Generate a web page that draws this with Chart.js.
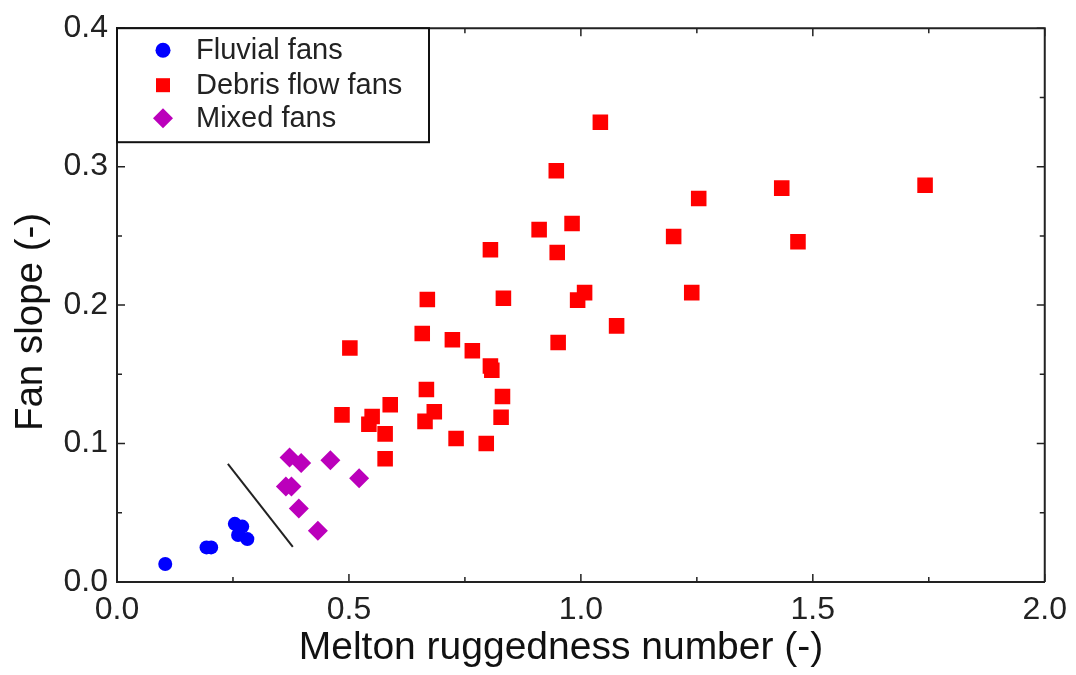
<!DOCTYPE html>
<html>
<head>
<meta charset="utf-8">
<script src="https://cdn.jsdelivr.net/npm/chart.js@4/dist/chart.umd.min.js"></script>
<style>
  body { margin: 0; background: #fff; }
  #wrap { width: 1076px; height: 675px; }
</style>
</head>
<body>
<div id="wrap"><canvas id="fanChart" width="1076" height="675"></canvas></div>
<script>
/* -------------------- DATA -------------------- */
const fluvialX = [0.104, 0.193, 0.203, 0.254, 0.270, 0.261, 0.281];
const fluvialY = [0.013, 0.025, 0.025, 0.042, 0.040, 0.034, 0.031];

const debrisX = [1.042, 0.947, 1.254, 0.981, 0.910, 1.200, 0.805, 0.949, 1.433, 1.468, 1.742,
  0.669, 0.833, 1.008, 0.993, 1.239, 1.077, 0.658, 0.723, 0.766, 0.951, 0.502, 0.805, 0.808,
  0.667, 0.831, 0.684, 0.664, 0.828, 0.589, 0.485, 0.550, 0.543, 0.731, 0.796, 0.578, 0.578];
const debrisY = [0.332, 0.297, 0.277, 0.259, 0.2545, 0.2495, 0.240, 0.238, 0.2845, 0.2457, 0.2866,
  0.204, 0.205, 0.209, 0.2036, 0.209, 0.185, 0.1795, 0.175, 0.167, 0.173, 0.169, 0.156, 0.153,
  0.139, 0.134, 0.123, 0.116, 0.119, 0.128, 0.1207, 0.1195, 0.114, 0.1036, 0.100, 0.107, 0.089];

const mixedX = [0.372, 0.397, 0.460, 0.522, 0.364, 0.376, 0.392, 0.433];
const mixedY = [0.090, 0.086, 0.088, 0.075, 0.069, 0.069, 0.053, 0.037];

// dividing line between fluvial and mixed fans
const dividerX = [0.239, 0.379];
const dividerY = [0.0854, 0.0254];

const xTicks = [0, 0.5, 1.0, 1.5, 2.0];
const yTicks = [0, 0.1, 0.2, 0.3, 0.4];
const legendLabels = ["Fluvial fans", "Debris flow fans", "Mixed fans"];
const xTitle = "Melton ruggedness number (-)";
const yTitle = "Fan slope (-)";

const toPoints = (xs, ys) => xs.map((x, i) => ({ x: x, y: ys[i] }));

const FONT = "'Liberation Sans', Arial, sans-serif";
const AXIS = "#222";

/* -------------------- FRAME, TITLES + LEGEND PLUGIN -------------------- */
const framePlugin = {
  id: "frame",
  afterDraw(chart) {
    const { ctx, chartArea: a, scales } = chart;
    const xs = scales.x, ys = scales.y;
    ctx.save();
    ctx.strokeStyle = AXIS;
    ctx.lineWidth = 2;
    ctx.beginPath();
    ctx.moveTo(a.left, a.top);
    ctx.lineTo(a.right, a.top);
    ctx.lineTo(a.right, a.bottom);
    ctx.stroke();

    // inward ticks on all four sides
    ctx.lineWidth = 1.5;
    ctx.beginPath();
    for (let v = 0; v <= 2.0001; v += 0.25) {
      const px = xs.getPixelForValue(v);
      const len = Math.abs(v * 2 - Math.round(v * 2)) < 1e-6 ? 8 : 5;
      ctx.moveTo(px, a.bottom); ctx.lineTo(px, a.bottom - len);
      ctx.moveTo(px, a.top); ctx.lineTo(px, a.top + len);
    }
    for (let v = 0; v <= 0.4001; v += 0.05) {
      const py = ys.getPixelForValue(v);
      const len = Math.abs(v * 10 - Math.round(v * 10)) < 1e-6 ? 8 : 5;
      ctx.moveTo(a.left, py); ctx.lineTo(a.left + len, py);
      ctx.moveTo(a.right, py); ctx.lineTo(a.right - len, py);
    }
    ctx.stroke();

    // axis titles (sit a little off-centre in the original)
    ctx.fillStyle = "#111";
    ctx.textAlign = "center";
    ctx.textBaseline = "alphabetic";
    ctx.font = "39px " + FONT;
    ctx.fillText(xTitle, 561, 659);
    ctx.save();
    ctx.translate(42, 322);
    ctx.rotate(-Math.PI / 2);
    ctx.font = "38.5px " + FONT;
    ctx.fillText(yTitle, 0, 0);
    ctx.restore();

    // legend box
    const bx = a.left, by = a.top, bw = 312, bh = 114;
    ctx.fillStyle = "#fff";
    ctx.fillRect(bx, by, bw, bh);
    ctx.lineWidth = 2;
    ctx.strokeStyle = "#111";
    ctx.strokeRect(bx, by, bw, bh);

    const rowsY = [by + 22, by + 57, by + 90];
    const mx = bx + 46;
    ctx.font = "29px " + FONT;
    ctx.textBaseline = "middle";
    ctx.textAlign = "left";
    chart.data.datasets.slice(0, 3).forEach((ds, i) => {
      ctx.fillStyle = ds.backgroundColor;
      const y = rowsY[i];
      ctx.beginPath();
      if (ds.pointStyle === "circle") {
        ctx.arc(mx, y, 7.5, 0, Math.PI * 2);
      } else if (ds.pointStyle === "rect") {
        ctx.rect(mx - 7, y - 7, 14, 14);
      } else {
        ctx.moveTo(mx - 10, y); ctx.lineTo(mx, y - 10);
        ctx.lineTo(mx + 10, y); ctx.lineTo(mx, y + 10);
        ctx.closePath();
      }
      ctx.fill();
      ctx.fillStyle = "#222";
      ctx.fillText(legendLabels[i], bx + 79, y + 1);
    });
    ctx.restore();
  }
};

/* -------------------- CHART -------------------- */
const ctx = document.getElementById("fanChart");
new Chart(ctx, {
  type: "scatter",
  data: {
    datasets: [
      {
        label: legendLabels[0],
        data: toPoints(fluvialX, fluvialY),
        pointStyle: "circle",
        pointRadius: 7,
        backgroundColor: "#0000ff",
        borderColor: "#0000ff",
        borderWidth: 0
      },
      {
        label: legendLabels[1],
        data: toPoints(debrisX, debrisY),
        pointStyle: "rect",
        pointRadius: 11,
        backgroundColor: "#ff0000",
        borderColor: "#ff0000",
        borderWidth: 0
      },
      {
        label: legendLabels[2],
        data: toPoints(mixedX, mixedY),
        pointStyle: "rectRot",
        pointRadius: 10,
        backgroundColor: "#bb00bb",
        borderColor: "#bb00bb",
        borderWidth: 0
      },
      {
        type: "line",
        label: "divider",
        data: toPoints(dividerX, dividerY),
        showLine: true,
        pointRadius: 0,
        borderColor: "#222",
        borderWidth: 2,
        fill: false
      }
    ]
  },
  options: {
    responsive: false,
    animation: false,
    layout: { padding: { top: 22, right: 30, left: 0, bottom: 0 } },
    plugins: { legend: { display: false }, tooltip: { enabled: false } },
    scales: {
      x: {
        type: "linear",
        min: 0, max: 2,
        afterFit: s => { s.height = 93; },
        afterBuildTicks: s => { s.ticks = xTicks.map(v => ({ value: v })); },
        grid: { display: false, drawTicks: false },
        border: { display: true, color: AXIS, width: 2 },
        ticks: {
          padding: 9,
          color: "#222",
          font: { family: FONT, size: 32 },
          callback: v => v.toFixed(1)
        }
      },
      y: {
        type: "linear",
        min: 0, max: 0.4,
        afterFit: s => { s.width = 117; },
        afterBuildTicks: s => { s.ticks = yTicks.map(v => ({ value: v })); },
        grid: { display: false, drawTicks: false },
        border: { display: true, color: AXIS, width: 2 },
        ticks: {
          padding: 9,
          color: "#222",
          font: { family: FONT, size: 32 },
          callback: v => v.toFixed(1)
        }
      }
    }
  },
  plugins: [framePlugin]
});
</script>
</body>
</html>
